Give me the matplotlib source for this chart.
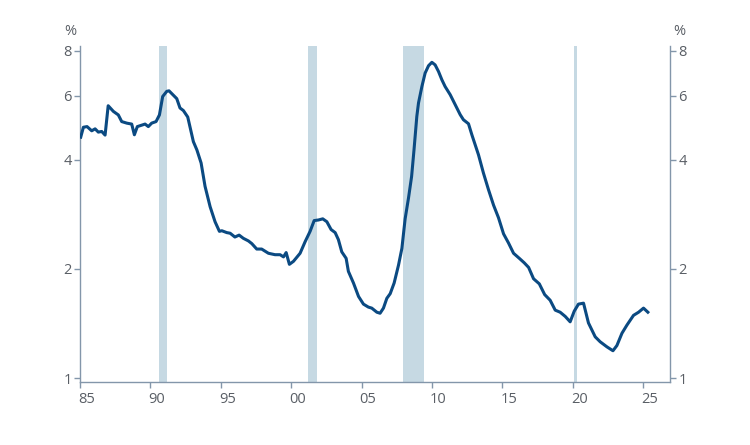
import numpy as np
import matplotlib
matplotlib.use("Agg")
import matplotlib.pyplot as plt
from matplotlib.ticker import FixedLocator, FixedFormatter, NullLocator
from matplotlib.transforms import ScaledTranslation

# data (year, percent)
years = [1985.05, 1985.24, 1985.5, 1985.83, 1986.07, 1986.3, 1986.54, 1986.78,
         1987.0, 1987.37, 1987.72, 1987.96, 1988.32, 1988.67, 1988.86, 1989.07,
         1989.62, 1989.85, 1990.09, 1990.4, 1990.64, 1990.87, 1991.16, 1991.32,
         1991.59, 1991.87, 1992.1, 1992.34, 1992.65, 1993.05, 1993.3, 1993.6,
         1993.88, 1994.24, 1994.59, 1994.9, 1995.07, 1995.42, 1995.66, 1996.0,
         1996.3, 1996.6, 1996.96, 1997.2, 1997.55, 1997.9, 1998.38, 1998.85,
         1999.21, 1999.45, 1999.64, 1999.87, 2000.16, 2000.63, 2000.99, 2001.34,
         2001.63, 2001.93, 2002.24, 2002.53, 2002.83, 2003.12, 2003.35, 2003.59,
         2003.9, 2004.06, 2004.42, 2004.78, 2005.13, 2005.48, 2005.72, 2006.08,
         2006.31, 2006.55, 2006.79, 2007.03, 2007.31, 2007.62, 2007.86, 2008.09,
         2008.33, 2008.55, 2008.72, 2008.92, 2009.04, 2009.28, 2009.51, 2009.75,
         2009.99, 2010.22, 2010.46, 2010.7, 2010.93, 2011.29, 2011.64, 2012.0,
         2012.23, 2012.59, 2012.83, 2013.3, 2013.65, 2014.01, 2014.37, 2014.72,
         2015.08, 2015.43, 2015.79, 2016.2, 2016.55, 2016.86, 2017.21, 2017.62,
         2018.0, 2018.39, 2018.75, 2019.1, 2019.46, 2019.81, 2020.1, 2020.4,
         2020.76, 2021.11, 2021.59, 2021.94, 2022.42, 2022.85, 2023.13, 2023.49,
         2023.84, 2024.31, 2024.67, 2025.02, 2025.33]
rate = [4.62, 4.92, 4.94, 4.81, 4.87, 4.77, 4.79, 4.68,
        5.64, 5.44, 5.32, 5.10, 5.05, 5.02, 4.69, 4.94,
        5.02, 4.94, 5.05, 5.10, 5.32, 5.98, 6.18, 6.20,
        6.05, 5.90, 5.56, 5.47, 5.25, 4.49, 4.26, 3.92,
        3.38, 2.97, 2.70, 2.54, 2.55, 2.52, 2.51, 2.45,
        2.48, 2.43, 2.39, 2.35, 2.27, 2.27, 2.21, 2.19,
        2.19, 2.16, 2.22, 2.06, 2.10, 2.21, 2.38, 2.54,
        2.72, 2.73, 2.75, 2.70, 2.57, 2.52, 2.41, 2.23,
        2.14, 1.97, 1.83, 1.68, 1.60, 1.57, 1.56, 1.52,
        1.51, 1.56, 1.66, 1.71, 1.83, 2.05, 2.28, 2.75,
        3.14, 3.60, 4.26, 5.27, 5.74, 6.37, 6.94, 7.27,
        7.43, 7.31, 7.01, 6.65, 6.37, 6.05, 5.68, 5.33,
        5.16, 5.03, 4.69, 4.13, 3.68, 3.31, 3.00, 2.77,
        2.50, 2.36, 2.21, 2.14, 2.08, 2.02, 1.88, 1.82,
        1.70, 1.64, 1.54, 1.52, 1.48, 1.43, 1.53, 1.60,
        1.61, 1.42, 1.30, 1.26, 1.22, 1.19, 1.23, 1.33,
        1.40, 1.49, 1.52, 1.56, 1.52]

# recessions (start, end)
recessions = [(1990.58, 1991.2), (2001.2, 2001.84), (2007.95, 2009.4), (2020.05, 2020.28)]

xticks = [1985, 1990, 1995, 2000, 2005, 2010, 2015, 2020, 2025]
xlabels = ["85", "90", "95", "00", "05", "10", "15", "20", "25"]
yticks = [1, 2, 4, 6, 8]

axis_col = "#8396aa"
text_col = "#5a5f66"
line_col = "#0b4a82"
shade_col = "#c6d9e3"

plt.rcParams["font.family"] = ["Open Sans", "DejaVu Sans"]

fig = plt.figure(figsize=(7.5, 4.45), dpi=100)
ax = fig.add_axes([0.1067, 0.142, 0.7866, 0.755])

for s, e in recessions:
    ax.axvspan(s, e, color=shade_col, lw=0, zorder=1)

ax.plot(years, rate, color=line_col, lw=2.2, zorder=3, solid_joinstyle="round")

ax.set_yscale("log")
ax.set_ylim(0.977, 8.25)
ax.set_xlim(1985, 2026.9)

ax.yaxis.set_major_locator(FixedLocator(yticks))
ax.yaxis.set_major_formatter(FixedFormatter([str(v) for v in yticks]))
ax.yaxis.set_minor_locator(NullLocator())
ax.set_xticks(xticks)
ax.set_xticklabels(xlabels)

ax.spines["top"].set_visible(False)
for sp in ["left", "right", "bottom"]:
    ax.spines[sp].set_color(axis_col)
    ax.spines[sp].set_linewidth(1.0)

ax.tick_params(axis="both", colors=axis_col, labelcolor=text_col, labelsize=10.5,
               length=4, width=1.0, direction="out")
ax.tick_params(axis="y", left=True, right=True, labelleft=True, labelright=True, pad=2)
ax.tick_params(axis="x", pad=3)

# x labels sit just right of their ticks
shift = ScaledTranslation(-2 / 100, 0, fig.dpi_scale_trans)
for lab in ax.get_xticklabels():
    lab.set_horizontalalignment("left")
    lab.set_transform(lab.get_transform() + shift)

ax.text(-0.017, 1.02, "%", transform=ax.transAxes, ha="center", va="bottom",
        color=text_col, fontsize=10.5)
ax.text(1.015, 1.02, "%", transform=ax.transAxes, ha="center", va="bottom",
        color=text_col, fontsize=10.5)

fig.savefig("out.png", dpi=100, facecolor="white")
